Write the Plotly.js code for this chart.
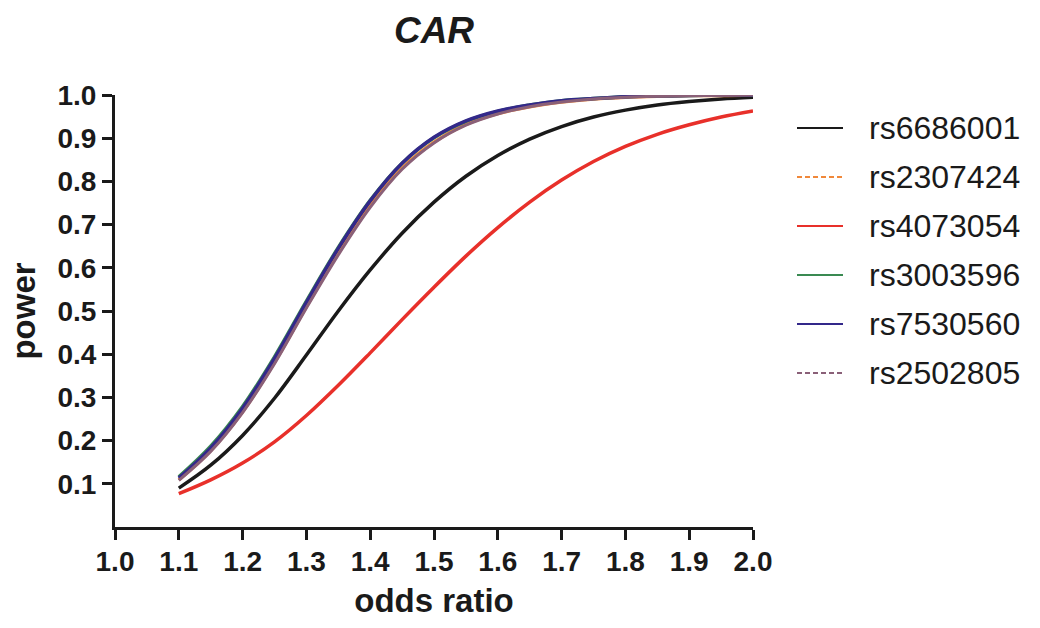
<!DOCTYPE html>
<html><head><meta charset="utf-8">
<script src="https://cdn.plot.ly/plotly-3.0.1.min.js"></script>
<style>html,body{margin:0;padding:0;background:#fff}#chart{width:1040px;height:628px}</style>
</head><body><div id="chart"></div>
<script>
// ---- data ----
const oddsRatio = [1.10,1.15,1.20,1.25,1.30,1.35,1.40,1.45,1.50,1.55,1.60,1.65,1.70,1.75,1.80,1.85,1.90,1.95,2.00];
const rs6686001 = [0.090,0.143,0.212,0.298,0.398,0.500,0.595,0.680,0.752,0.812,0.860,0.898,0.927,0.949,0.965,0.977,0.985,0.991,0.995];
const rs2307424 = [0.109,0.177,0.267,0.381,0.510,0.634,0.744,0.831,0.891,0.932,0.957,0.973,0.984,0.991,0.995,0.997,0.999,0.999,1.000];
const rs4073054 = [0.077,0.109,0.148,0.197,0.258,0.328,0.403,0.480,0.555,0.627,0.693,0.752,0.803,0.846,0.881,0.909,0.931,0.949,0.963];
const rs3003596 = [0.116,0.187,0.279,0.394,0.523,0.647,0.756,0.842,0.901,0.939,0.962,0.977,0.987,0.992,0.996,0.998,0.999,1.000,1.000];
const rs7530560 = [0.113,0.183,0.275,0.390,0.520,0.645,0.755,0.842,0.902,0.940,0.963,0.977,0.987,0.992,0.996,0.998,0.999,1.000,1.000];
const rs2502805 = [0.108,0.175,0.265,0.378,0.507,0.630,0.740,0.828,0.889,0.930,0.956,0.973,0.984,0.991,0.995,0.997,0.999,0.999,1.000];

const seriesNames  = ['rs6686001','rs2307424','rs4073054','rs3003596','rs7530560','rs2502805'];
const seriesValues = [rs6686001, rs2307424, rs4073054, rs3003596, rs7530560, rs2502805];
const seriesColors = ['#1a1a1a','#f0883a','#e8302a','#3a8a52','#33288a','#8a6078'];
const seriesDash   = ['solid','dash','solid','solid','solid','dash'];
const drawOrder    = [0,2,1,3,4,5];

const xTicks = [1.0,1.1,1.2,1.3,1.4,1.5,1.6,1.7,1.8,1.9,2.0];
const yTicks = [0.1,0.2,0.3,0.4,0.5,0.6,0.7,0.8,0.9,1.0];

// ---- layout constants ----
const W = 1040, H = 628;
const M = {l:115, r:287, t:95, b:101};
const PW = W - M.l - M.r, PH = H - M.t - M.b;
const px2x = p => (p - M.l) / PW;
const px2y = p => (H - M.b - p) / PH;
const FONT = 'Liberation Sans, Arial, Helvetica, sans-serif';
const INK = '#1a1a1a';

const traces = drawOrder.map(i => ({
  x: oddsRatio, y: seriesValues[i], name: seriesNames[i],
  type: 'scatter', mode: 'lines', showlegend: false,
  line: {color: seriesColors[i], width: i === 5 ? 3 : 3.5, shape: 'spline', smoothing: 1}
}));

// manual legend (long line samples, big text)
const legTop = 128, legStep = 49;
const shapes = [], annotations = [];
seriesNames.forEach((n, i) => {
  const yy = px2y(legTop + i * legStep);
  shapes.push({type:'line', xref:'paper', yref:'paper', x0: px2x(797), x1: px2x(843), y0: yy, y1: yy,
    line:{color: seriesColors[i], width: 2, dash: seriesDash[i] === 'dash' ? '5px,3px' : 'solid'}});
  annotations.push({xref:'paper', yref:'paper', x: px2x(867), y: yy, xanchor:'left', yanchor:'middle',
    showarrow:false, text: n, font:{family: FONT, size: 32, color: INK}});
});

const axisCommon = {
  showline: true, linewidth: 3, linecolor: INK, mirror: false,
  ticks: 'outside', ticklen: 10, tickwidth: 3, tickcolor: INK,
  showgrid: false, zeroline: false,
  tickfont: {family: FONT, size: 28, color: INK, weight: 'bold'}
};

const layout = {
  width: W, height: H, margin: M,
  paper_bgcolor: '#fff', plot_bgcolor: '#fff',
  showlegend: false,
  title: {text: 'CAR', xref: 'paper', x: 0.5, xanchor: 'center', yref: 'container', y: 1 - 30/H, yanchor: 'middle',
    font: {family: FONT, size: 37, color: INK, weight: 'bold', style: 'italic'}},
  xaxis: Object.assign({}, axisCommon, {
    range: [1, 2], tickvals: xTicks, ticktext: xTicks.map(v => v.toFixed(1)),
    ticklabelstandoff: -3,
    title: {text: 'odds ratio', standoff: 14, font: {family: FONT, size: 33, color: INK, weight: 'bold'}}
  }),
  yaxis: Object.assign({}, axisCommon, {
    range: [0, 1], tickvals: yTicks, ticktext: yTicks.map(v => v.toFixed(1)),
    title: {text: 'power', standoff: 12, font: {family: FONT, size: 33, color: INK, weight: 'bold'}}
  }),
  shapes: shapes, annotations: annotations
};

Plotly.newPlot('chart', traces, layout, {displayModeBar: false, staticPlot: true});
</script>
</body></html>
